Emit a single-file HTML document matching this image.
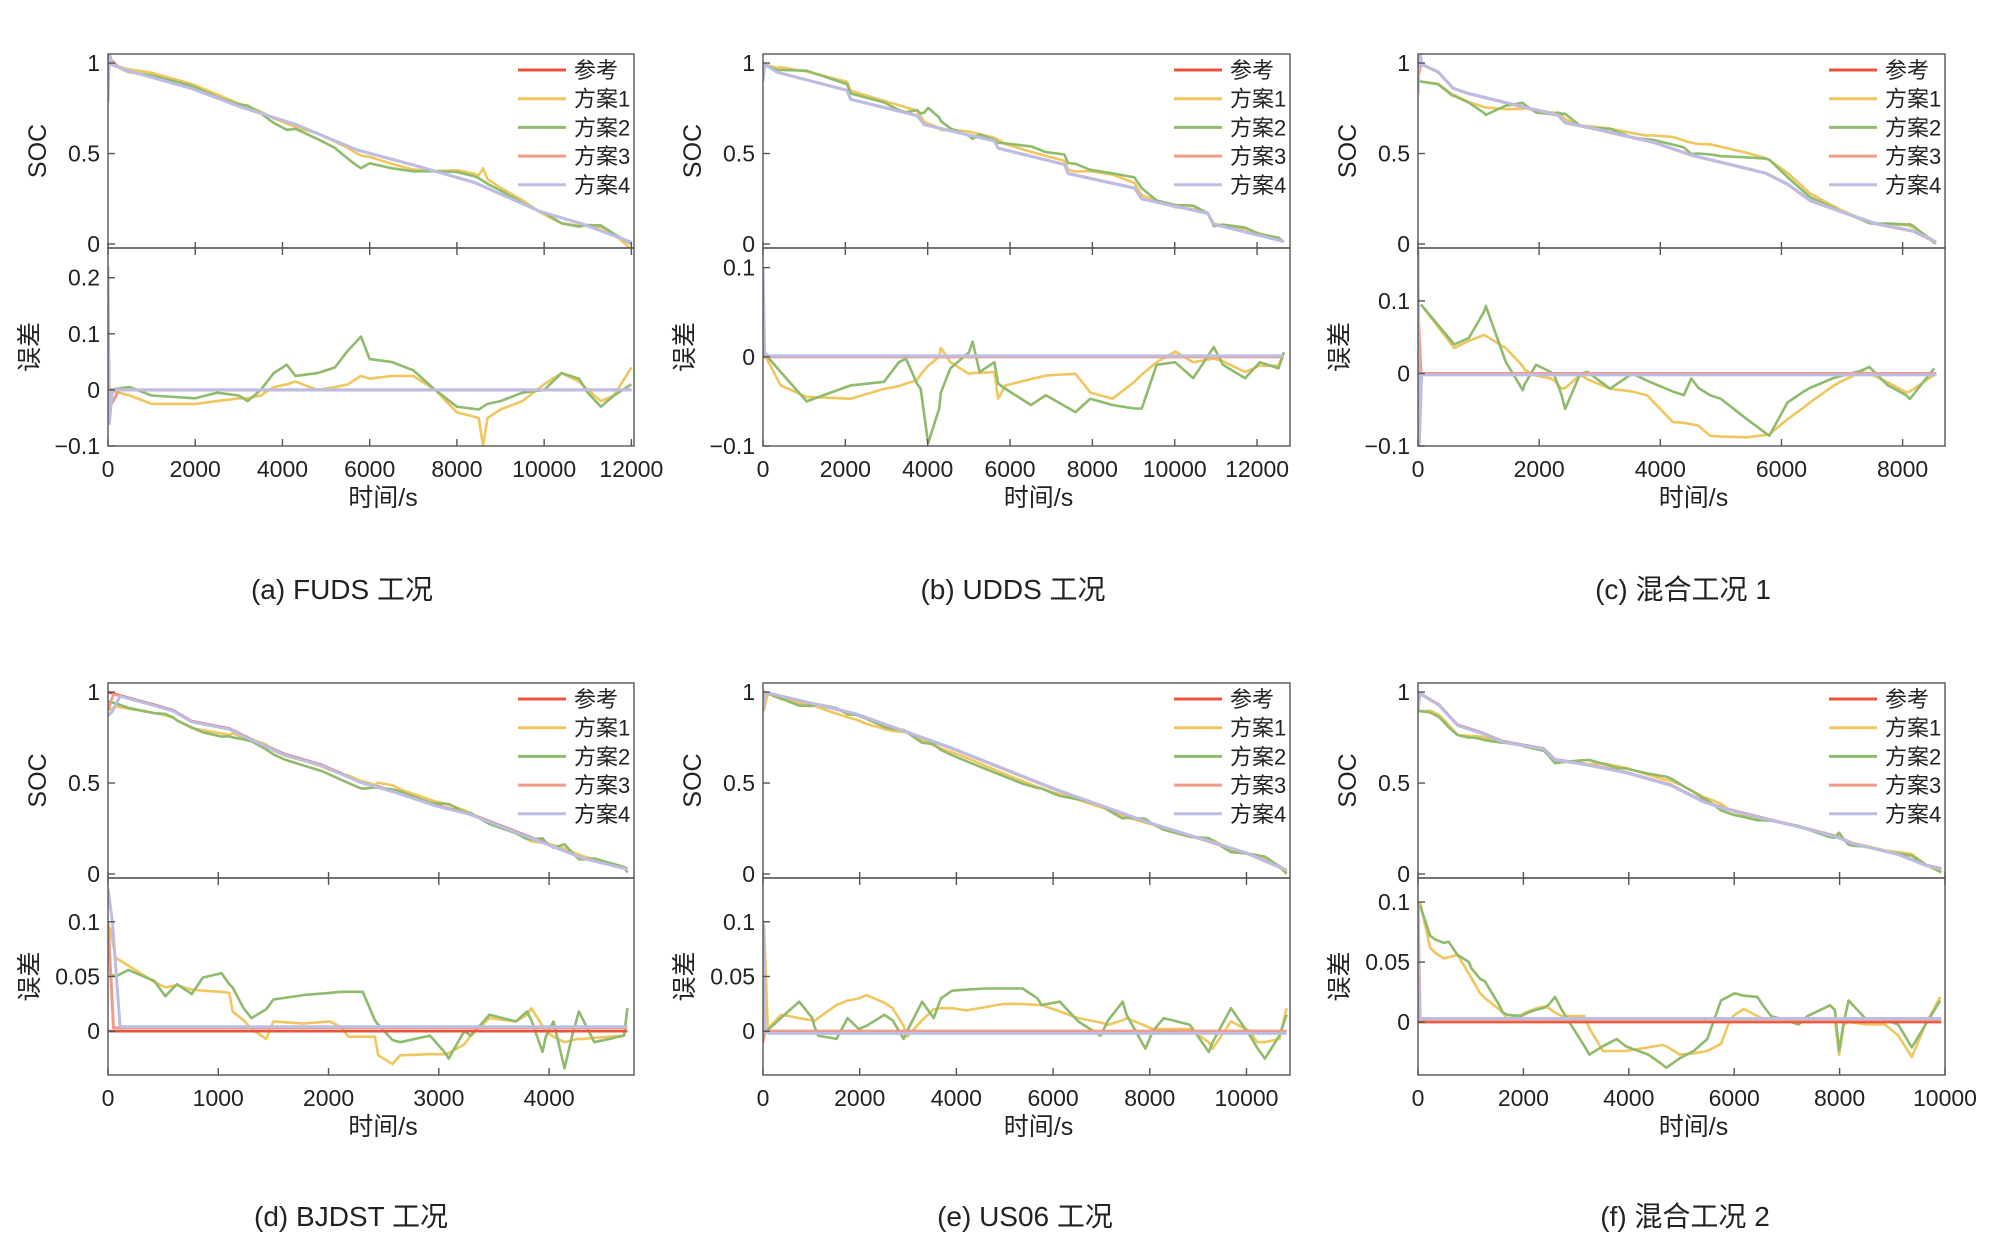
<!DOCTYPE html>
<html><head><meta charset="utf-8">
<style>
html,body{margin:0;padding:0;background:#fff;}
svg{display:block;}
text{font-family:"Liberation Sans","Noto Sans CJK SC",sans-serif;fill:#222;}
</style></head>
<body>
<svg id="fig" width="2011" height="1253" viewBox="0 0 2011 1253" xmlns="http://www.w3.org/2000/svg"></svg>
<script>
// ---------- DATA ----------
// Panel (a) FUDS
const aRefT=[0,420,1910,3010,4310,5710,7100,8400,9900,10890,12000];
const aRefSoc=[1,0.96,0.86,0.76,0.66,0.52,0.43,0.34,0.18,0.11,0.01];
const aErrT=[0,500,1000,2000,2500,3000,3200,3500,3800,4100,4300,4800,5200,5500,5800,6000,6500,7000,7500,8000,8500,8600,8700,9000,9500,10000,10400,10800,11000,11300,11600,12000];
const aErr1=[0,-0.01,-0.025,-0.025,-0.02,-0.015,-0.015,-0.01,0.005,0.01,0.015,0,0.005,0.01,0.025,0.02,0.025,0.025,0,-0.04,-0.05,-0.1,-0.05,-0.035,-0.02,0.01,0.03,0.015,0,-0.02,-0.01,0.04];
const aErr2=[0,0.005,-0.01,-0.015,-0.005,-0.01,-0.02,0,0.03,0.045,0.025,0.03,0.04,0.07,0.095,0.055,0.05,0.035,0,-0.03,-0.035,-0.03,-0.025,-0.02,-0.005,0,0.03,0.02,-0.005,-0.03,-0.01,0.01];
const aE3T=[0,40,120,250,12000];const aErr3=[0.1,-0.03,-0.02,0,0];
const aE4T=[0,30,100,200,12000];const aErr4=[0.22,-0.06,0,0,0];

// Panel (b) UDDS
const bRefT=[0,340,2040,2130,3740,3920,5620,5710,7320,7410,9020,9200,10800,10950,12650];
const bRefSoc=[1,0.95,0.85,0.80,0.71,0.66,0.57,0.53,0.44,0.39,0.31,0.25,0.17,0.11,0.015];
const bErrT=[0,430,1060,2130,2940,3300,3470,3740,3830,4010,4280,4320,4550,5000,5090,5260,5620,5710,5890,6510,6870,7590,7950,8490,9020,9200,9560,10010,10450,10950,11170,11710,12070,12520,12650];
const bErr1=[0.006,-0.032,-0.045,-0.047,-0.036,-0.033,-0.03,-0.026,-0.02,-0.01,0,0.01,-0.006,-0.019,-0.018,-0.018,-0.017,-0.047,-0.032,-0.025,-0.021,-0.019,-0.04,-0.047,-0.028,-0.02,-0.006,0.006,-0.006,-0.002,-0.005,-0.017,-0.01,-0.01,0.005];
const bErr2=[0.006,-0.017,-0.05,-0.032,-0.028,-0.006,-0.002,-0.03,-0.036,-0.097,-0.058,-0.04,-0.013,0.005,0.017,-0.017,-0.006,-0.03,-0.036,-0.054,-0.043,-0.062,-0.047,-0.054,-0.058,-0.058,-0.009,-0.006,-0.024,0.011,-0.009,-0.024,-0.006,-0.013,0.005];
const bE3T=[0,60,12650];const bErr3=[0.01,0,0];
const bE4T=[0,40,120,12650];const bErr4=[0.1,0.005,0.001,0.001];

// Panel (c) mixed 1
const cRefT=[0,330,580,840,1330,1820,2310,2430,2860,3900,4510,5130,5740,6100,6470,6960,7570,8180,8550];
const cRefSoc=[1,0.95,0.86,0.83,0.79,0.75,0.71,0.67,0.64,0.56,0.49,0.44,0.39,0.33,0.24,0.18,0.11,0.07,0.01];
const cErrT=[50,600,840,1090,1120,1450,1730,1760,1950,2190,2250,2370,2430,2680,2800,3170,3540,3780,4210,4390,4510,4630,4820,5000,5430,5800,6100,6350,6470,6840,6960,7320,7450,7750,8060,8120,8520];
const cErr1=[0.095,0.035,0.045,0.053,0.052,0.035,0.01,0.005,-0.003,-0.007,-0.01,-0.021,-0.02,-0.002,-0.008,-0.021,-0.025,-0.03,-0.067,-0.068,-0.07,-0.072,-0.086,-0.087,-0.088,-0.084,-0.063,-0.048,-0.04,-0.018,-0.012,0.002,0,-0.012,-0.026,-0.025,-0.002];
const cErr2=[0.095,0.04,0.049,0.085,0.093,0.016,-0.023,-0.015,0.012,0.002,-0.002,-0.03,-0.049,0.0,0.002,-0.021,0,-0.01,-0.025,-0.03,-0.007,-0.02,-0.03,-0.035,-0.063,-0.086,-0.04,-0.026,-0.02,-0.007,-0.004,0.004,0.009,-0.016,-0.03,-0.035,0.007];
const cE3T=[0,50,100,8560];const cErr3=[0.09,0.0,0.0,0.0];
const cE4T=[0,20,60,8560];const cErr4=[0.17,-0.1,-0.002,-0.002];

// Panel (d) BJDST
const dRefT=[0,420,590,760,1100,1270,1600,1940,2280,2620,2960,3290,3630,3970,4310,4710];
const dRefSoc=[1,0.93,0.90,0.84,0.80,0.75,0.66,0.60,0.51,0.45,0.38,0.33,0.25,0.17,0.09,0.03];
const dErrT=[15,70,185,420,520,625,760,860,1030,1100,1130,1230,1300,1435,1500,1770,2010,2110,2180,2310,2420,2450,2580,2650,2920,3060,3090,3230,3290,3460,3700,3800,3840,3940,3970,4040,4140,4210,4270,4310,4410,4680,4710];
const dErr1=[0.095,0.067,0.06,0.045,0.04,0.042,0.038,0.037,0.036,0.035,0.018,0.01,0.002,-0.007,0.009,0.007,0.009,0.004,-0.005,-0.005,-0.005,-0.022,-0.03,-0.022,-0.021,-0.021,-0.02,-0.012,-0.004,0.012,0.009,0.015,0.021,0.005,0,-0.005,-0.01,-0.008,-0.007,-0.007,-0.006,-0.004,0.021];
const dErr2=[0.052,0.05,0.056,0.046,0.032,0.043,0.034,0.049,0.053,0.043,0.04,0.021,0.012,0.02,0.029,0.033,0.035,0.036,0.036,0.036,0.01,0.006,-0.008,-0.01,-0.004,-0.02,-0.025,0,-0.004,0.015,0.009,0.018,0.01,-0.019,-0.005,0.009,-0.034,-0.004,0.018,0.01,-0.01,-0.004,0.021];
const dE3T=[0,50,100,4710];const dErr3=[0.1,0.003,0.003,0.003];
const dE4T=[0,40,110,4710];const dErr4=[0.13,0.1,0.004,0.004];

// Panel (e) US06
const eRefT=[0,1910,3910,5990,7990,9990,10830];
const eRefSoc=[1,0.88,0.69,0.47,0.28,0.115,0.02];
const eErrT=[20,100,370,520,750,1020,1060,1140,1520,1750,1980,2140,2510,2680,2910,2980,3290,3530,3680,3910,4210,4600,4980,5370,5680,5760,6140,6520,6980,7140,7440,7520,7910,8060,8290,8830,9220,9300,9680,10070,10220,10380,10680,10830];
const eErr1=[0.097,0.002,0.015,0.014,0.012,0.01,0.009,0.012,0.024,0.028,0.03,0.033,0.026,0.021,0.005,-0.005,0.01,0.02,0.021,0.021,0.019,0.022,0.025,0.025,0.024,0.024,0.018,0.012,0.008,0.006,0.01,0.012,0.005,0.002,0.002,0.002,-0.01,-0.016,0.009,0,-0.01,-0.01,-0.007,0.021];
const eErr2=[0.0,0.001,0.012,0.018,0.027,0.012,0.005,-0.004,-0.007,0.012,0.002,0.005,0.015,0.01,-0.007,0.0,0.027,0.012,0.03,0.037,0.038,0.039,0.039,0.039,0.03,0.024,0.027,0.009,-0.004,0.01,0.027,0.015,-0.016,0.0,0.012,0.006,-0.019,-0.01,0.021,-0.004,-0.015,-0.025,-0.004,0.015];
const eE3T=[0,40,10830];const eErr3=[-0.01,0,0];
const eE4T=[0,40,120,10830];const eErr4=[0.1,0.0,-0.002,-0.002];

// Panel (f) mixed 2
const fRefT=[0,400,750,1180,1610,2390,2600,3080,3940,4800,5410,5840,6530,7390,7910,8250,9110,9630,9930];
const fRefSoc=[1,0.93,0.82,0.78,0.73,0.69,0.63,0.61,0.56,0.49,0.40,0.36,0.31,0.25,0.21,0.17,0.11,0.05,0.03];
const fErrT=[40,230,320,490,580,750,970,1010,1180,1270,1530,1610,1700,1960,2040,2220,2390,2470,2600,2730,2900,3160,3250,3510,3770,3940,4370,4630,4710,4970,5230,5490,5750,5920,6010,6180,6440,6530,6700,6960,7220,7390,7820,7910,7990,8080,8170,8510,8690,8860,9110,9370,9630,9910];
const fErr1=[0.1,0.062,0.058,0.053,0.054,0.056,0.04,0.037,0.024,0.02,0.011,0.008,0.002,0.006,0.008,0.011,0.013,0.012,0.008,0.005,0.005,0.005,-0.005,-0.024,-0.024,-0.024,-0.021,-0.019,-0.02,-0.027,-0.026,-0.024,-0.018,0.002,0.006,0.011,0.005,0.003,0.002,0.002,0.001,0,0.002,0.002,-0.027,-0.002,0.0,-0.002,-0.002,-0.002,-0.011,-0.029,-0.002,0.021];
const fErr2=[0.097,0.072,0.069,0.066,0.067,0.056,0.05,0.045,0.036,0.034,0.015,0.008,0.006,0.005,0.007,0.01,0.012,0.014,0.021,0.01,-0.002,-0.02,-0.027,-0.02,-0.014,-0.02,-0.027,-0.035,-0.038,-0.03,-0.024,-0.014,0.018,0.022,0.024,0.022,0.021,0.015,0.005,0.002,-0.002,0.005,0.014,0.01,-0.024,0.0,0.018,0.002,0.002,0.002,-0.002,-0.021,-0.002,0.018];
const fE3T=[0,40,9930];const fErr3=[0.1,0.002,0.002];
const fE4T=[0,30,80,9930];const fErr4=[0.1,0.003,0.003,0.003];

// tick labels
const socTicks=[0,0.5,1];
const socTickLabels=["0","0.5","1"];
const legendLabels=["参考","方案1","方案2","方案3","方案4"];

const panels=[
 {id:"a",cap:"(a) FUDS 工况",capX:342,col:0,row:0,xmax:12060,xt:[0,2000,4000,6000,8000,10000,12000],emin:-0.1,emax:0.253,et:[-0.1,0,0.1,0.2],etl:["\u22120.1","0","0.1","0.2"],
  rt:aRefT,rs:aRefSoc,et1:aErrT,e1:aErr1,e2:aErr2,t3:aE3T,e3:aErr3,t4:aE4T,e4:aErr4},
 {id:"b",cap:"(b) UDDS 工况",capX:1013,col:1,row:0,xmax:12800,xt:[0,2000,4000,6000,8000,10000,12000],emin:-0.1,emax:0.122,et:[-0.1,0,0.1],etl:["\u22120.1","0","0.1"],
  rt:bRefT,rs:bRefSoc,et1:bErrT,e1:bErr1,e2:bErr2,t3:bE3T,e3:bErr3,t4:bE4T,e4:bErr4},
 {id:"c",cap:"(c) 混合工况 1",capX:1683,col:2,row:0,xmax:8700,xt:[0,2000,4000,6000,8000],emin:-0.1,emax:0.173,et:[-0.1,0,0.1],etl:["\u22120.1","0","0.1"],
  rt:cRefT,rs:cRefSoc,et1:cErrT,e1:cErr1,e2:cErr2,t3:cE3T,e3:cErr3,t4:cE4T,e4:cErr4},
 {id:"d",cap:"(d) BJDST 工况",capX:351,col:0,row:1,xmax:4770,xt:[0,1000,2000,3000,4000],emin:-0.04,emax:0.14,et:[0,0.05,0.1],etl:["0","0.05","0.1"],
  rt:dRefT,rs:dRefSoc,et1:dErrT,e1:dErr1,e2:dErr2,t3:dE3T,e3:dErr3,t4:dE4T,e4:dErr4},
 {id:"e",cap:"(e) US06 工况",capX:1025,col:1,row:1,xmax:10900,xt:[0,2000,4000,6000,8000,10000],emin:-0.04,emax:0.14,et:[0,0.05,0.1],etl:["0","0.05","0.1"],
  rt:eRefT,rs:eRefSoc,et1:eErrT,e1:eErr1,e2:eErr2,t3:eE3T,e3:eErr3,t4:eE4T,e4:eErr4},
 {id:"f",cap:"(f) 混合工况 2",capX:1685,col:2,row:1,xmax:10000,xt:[0,2000,4000,6000,8000,10000],emin:-0.044,emax:0.12,et:[0,0.05,0.1],etl:["0","0.05","0.1"],
  rt:fRefT,rs:fRefSoc,et1:fErrT,e1:fErr1,e2:fErr2,t3:fE3T,e3:fErr3,t4:fE4T,e4:fErr4}
];

// ---------- LAYOUT ----------
const colL=[108,763,1418], colR=[634,1290,1945];
const rowTop=[54,683], rowSplit=[248,878], rowBot=[446,1075];
const colors=["#e8553a","#f0c65e","#8fbb6c","#f29a84","#bcbde4"];
const NS="http://www.w3.org/2000/svg";
const svg=document.getElementById("fig");
function mk(tag,attrs,parent){const e=document.createElementNS(NS,tag);for(const k in attrs)e.setAttribute(k,attrs[k]);(parent||svg).appendChild(e);return e;}
function interp(ts,vs,t){if(t<=ts[0])return vs[0];for(let i=1;i<ts.length;i++){if(t<=ts[i]){const f=(t-ts[i-1])/(ts[i]-ts[i-1]);return vs[i-1]+f*(vs[i]-vs[i-1]);}}return vs[vs.length-1];}

panels.forEach(p=>{
  const L=colL[p.col],R=colR[p.col],T=rowTop[p.row],S=rowSplit[p.row],B=rowBot[p.row];
  const g=mk("g",{});
  
  
  const x=t=>L+(t/p.xmax)*(R-L);
  const ySoc=v=>S-((v+0.022)/(1.05+0.022))*(S-T);
  const yErr=v=>B-((v-p.emin)/(p.emax-p.emin))*(B-S);
  const cid1="clipS"+p.id,cid2="clipE"+p.id;
  const defs=mk("defs",{},g);
  const c1=mk("clipPath",{id:cid1},defs);mk("rect",{x:L,y:T,width:R-L,height:S-T},c1);
  const c2=mk("clipPath",{id:cid2},defs);mk("rect",{x:L,y:S,width:R-L,height:B-S},c2);
  // SOC series: estimate = reference - error
  const sg=mk("g",{"clip-path":"url(#"+cid1+")"},g);
  
  
  const errDefs=[null,[p.et1,p.e1],[p.et1,p.e2],[p.t3,p.e3],[p.t4,p.e4]];
  errDefs.forEach((ed,k)=>{
    let ts,vs;
    if(k==0){ts=p.rt;vs=p.rs;}
    else{
      ts=[...new Set([...ed[0],...p.rt])].sort((a,b)=>a-b);
      vs=ts.map(t=>interp(p.rt,p.rs,t)-interp(ed[0],ed[1],t));
    }
    const d=ts.map((t,i)=>(i?"L":"M")+x(t).toFixed(1)+","+ySoc(vs[i]).toFixed(1)).join("");
    const path=mk("path",{d:d,fill:"none",stroke:colors[k],"stroke-width":k==4?3:2.6,"stroke-linejoin":"round"},sg);
    
    
  });
  // error series
  const eg=mk("g",{"clip-path":"url(#"+cid2+")"},g);
  
  
  const xEnd=p.rt[p.rt.length-1];
  const errSeries=[[[0,xEnd],[0,0]],[p.et1,p.e1],[p.et1,p.e2],[p.t3,p.e3],[p.t4,p.e4]];
  const order=[1,2,0,3,4];
  order.forEach(k=>{
    const s=errSeries[k];
    const d=s[0].map((t,i)=>(i?"L":"M")+x(t).toFixed(1)+","+yErr(s[1][i]).toFixed(1)).join("");
    const path=mk("path",{d:d,fill:"none",stroke:colors[k],"stroke-width":k>=3?3:2.6,"stroke-linejoin":"round"},eg);
    
    
  });
  const box1=mk("rect",{x:L,y:T,width:R-L,height:S-T,fill:"none",stroke:"#555","stroke-width":1.4},g);
  
  
  const box2=mk("rect",{x:L,y:S,width:R-L,height:B-S,fill:"none",stroke:"#555","stroke-width":1.4},g);
  
  
  p.xt.forEach((t,i)=>{
    const xx=x(t);
    mk("line",{x1:xx,y1:S,x2:xx,y2:S+7,stroke:"#555","stroke-width":1.4},g);
    mk("line",{x1:xx,y1:S,x2:xx,y2:S-6,stroke:"#555","stroke-width":1.4},g);
    mk("line",{x1:xx,y1:B,x2:xx,y2:B-7,stroke:"#555","stroke-width":1.4},g);
    const tx=mk("text",{x:xx,y:B+31,"text-anchor":"middle","font-size":23},g);
    tx.textContent=String(t);
    
    
  });
  socTicks.forEach((v,i)=>{
    const yy=ySoc(v);
    mk("line",{x1:L,y1:yy,x2:L+7,y2:yy,stroke:"#555","stroke-width":1.4},g);
    const tx=mk("text",{x:L-8,y:yy+8,"text-anchor":"end","font-size":23},g);
    tx.textContent=socTickLabels[i];
    
    
  });
  p.et.forEach((v,i)=>{
    const yy=yErr(v);
    mk("line",{x1:L,y1:yy,x2:L+7,y2:yy,stroke:"#555","stroke-width":1.4},g);
    const tx=mk("text",{x:L-8,y:yy+8,"text-anchor":"end","font-size":23},g);
    tx.textContent=p.etl[i];
    
    
  });
  const yl1=mk("text",{x:0,y:0,"text-anchor":"middle","font-size":25,transform:`translate(${L-62},${(T+S)/2}) rotate(-90)`},g);
  yl1.textContent="SOC";
  
  
  const yl2=mk("text",{x:0,y:0,"text-anchor":"middle","font-size":25,transform:`translate(${L-70},${(S+B)/2}) rotate(-90)`},g);
  yl2.textContent="误差";
  
  
  const xl=mk("text",{x:(L+R)/2+12,y:B+60,"text-anchor":"middle","font-size":25},g);
  xl.textContent="时间/s";
  
  
  const cap=mk("text",{x:p.capX,y:(p.row?1226:599),"text-anchor":"middle","font-size":28},g);
  cap.textContent=p.cap;
  
  
  const lg=mk("g",{},g);
  
  
  legendLabels.forEach((lab,i)=>{
    const yy=T+16+i*28.7;
    const ln=mk("line",{x1:R-116,y1:yy,x2:R-68,y2:yy,stroke:colors[i],"stroke-width":3},lg);
    
    
    const tx=mk("text",{x:R-60,y:yy+8,"font-size":22},lg);
    tx.textContent=lab;
    
    
  });
});
</script>
</body></html>
